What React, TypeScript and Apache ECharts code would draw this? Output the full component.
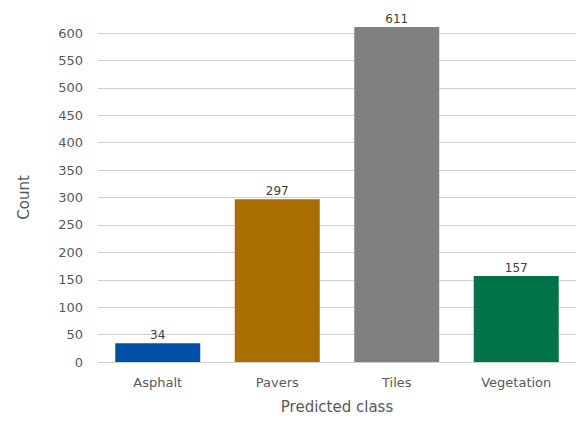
import React, { useEffect, useRef } from "react";
import * as echarts from "echarts";

const categories = ["Asphalt", "Pavers", "Tiles", "Vegetation"];
const counts = [34, 297, 611, 157];
const barColors = ["#0050a8", "#a86e00", "#808080", "#007449"];

export default function App() {
  const ref = useRef<HTMLDivElement>(null);

  useEffect(() => {
    if (!ref.current) return;
    const chart = echarts.init(ref.current, null, { renderer: "svg", width: 568, height: 411 });
    const font = "DejaVu Sans";
    chart.setOption({
      animation: false,
      backgroundColor: "#ffffff",
      grid: { left: 89, right: 0, top: 25, bottom: 47, containLabel: false },
      xAxis: {
        type: "category",
        data: categories,
        name: "Predicted class",
        nameLocation: "middle",
        nameGap: 37,
        nameTextStyle: { color: "#595959", fontFamily: font, fontSize: 15 },
        axisLine: { lineStyle: { color: "#d0d0d0", width: 1 } },
        axisTick: { alignWithLabel: true, length: 4, lineStyle: { color: "#d0d0d0" } },
        axisLabel: { color: "#595959", fontFamily: font, fontSize: 13, margin: 14 },
      },
      yAxis: {
        type: "value",
        min: 0,
        max: 600,
        interval: 50,
        name: "Count",
        nameLocation: "middle",
        nameGap: 67,
        nameTextStyle: { color: "#595959", fontFamily: font, fontSize: 15 },
        axisLine: { show: false },
        axisTick: { show: false },
        axisLabel: { color: "#595959", fontFamily: font, fontSize: 13, margin: 15 },
        splitLine: { lineStyle: { color: "#d0d0d0", width: 1 } },
      },
      series: [
        {
          type: "bar",
          clip: false,
          barWidth: 85,
          data: counts.map((v, i) => ({ value: v, itemStyle: { color: barColors[i] } })),
          label: {
            show: true,
            position: "top",
            distance: 2,
            color: "#404040",
            fontFamily: font,
            fontSize: 12,
          },
        },
      ],
    });
    return () => chart.dispose();
  }, []);

  return <div ref={ref} style={{ width: 568, height: 411 }} />;
}
